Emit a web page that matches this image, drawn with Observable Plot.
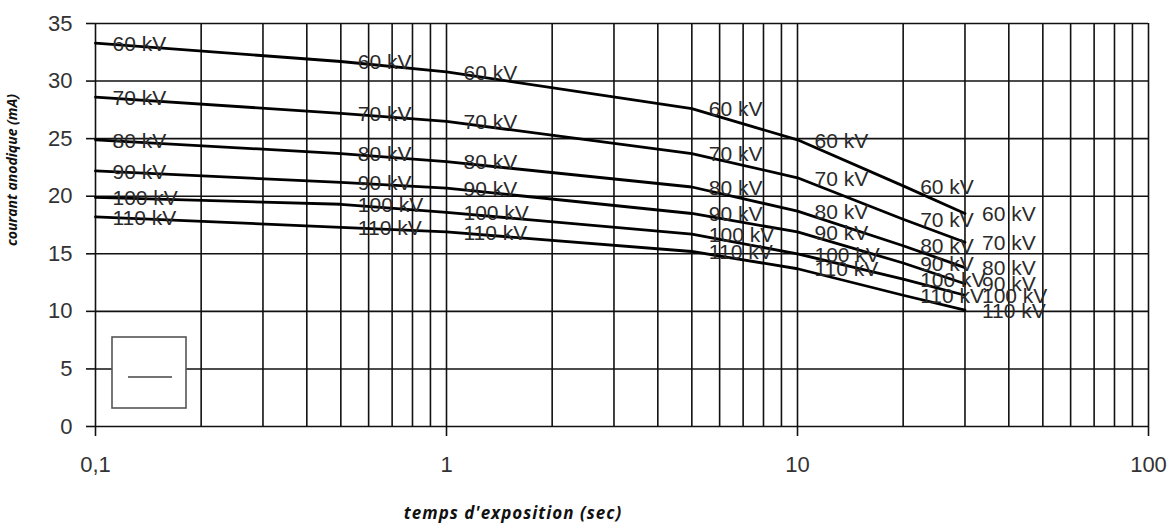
<!DOCTYPE html>
<html>
<head>
<meta charset="utf-8">
<script src="https://cdn.jsdelivr.net/npm/d3@7"></script>
<script src="https://cdn.jsdelivr.net/npm/@observablehq/plot@0.6"></script>
<style>
  html, body { margin: 0; padding: 0; background: #fff; }
  #chart svg { display: block; }
</style>
</head>
<body>
<div id="chart"></div>
<script>
// Exposure times (s) at which each curve is given
const times = [0.1, 0.5, 1, 5, 10, 20, 30];
// Tube voltages
const voltages = ["60 kV", "70 kV", "80 kV", "90 kV", "100 kV", "110 kV"];
// Anode current (mA) per voltage
const kv60  = [33.3, 31.7, 30.8, 27.6, 24.9, 20.9, 18.5];
const kv70  = [28.6, 27.2, 26.5, 23.7, 21.6, 18.0, 16.0];
const kv80  = [24.9, 23.7, 23.0, 20.8, 18.7, 15.7, 13.8];
const kv90  = [22.2, 21.2, 20.7, 18.5, 16.9, 14.2, 12.4];
const kv100 = [19.9, 19.3, 18.6, 16.7, 15.0, 12.8, 11.4];
const kv110 = [18.2, 17.3, 16.9, 15.2, 13.7, 11.4, 10.1];
const series = [kv60, kv70, kv80, kv90, kv100, kv110];

// Axis ticks
const xTicks = [0.1, 1, 10, 100];
const yTicks = [0, 5, 10, 15, 20, 25, 30, 35];
const xTitle = "temps d'exposition (sec)";
const yTitle = "courant anodique (mA)";

// grid lines of the log axis (1..9 in each decade)
const xGrid = [];
[0.1, 1, 10].forEach(d => { for (let k = 1; k <= 9; k++) xGrid.push(+(d * k).toPrecision(3)); });
xGrid.push(100);

const data = [];
voltages.forEach((v, i) => times.forEach((t, j) => data.push({kv: v, t, mA: series[i][j]})));

const W = 1171, H = 528;
const mL = 95, mR = 23, mT = 23, mB = 102;

const plot = Plot.plot({
  width: W,
  height: H,
  marginLeft: mL,
  marginRight: mR,
  marginTop: mT,
  marginBottom: mB,
  style: {fontFamily: "'Liberation Sans', Arial, sans-serif", background: "#fff", color: "#222"},
  x: {type: "log", domain: [0.1, 100]},
  y: {domain: [0, 35]},
  marks: [
    Plot.ruleX(xGrid, {stroke: "#111", strokeWidth: 1.6}),
    Plot.ruleY(yTicks, {stroke: "#111", strokeWidth: 1.6}),
    Plot.axisX({ticks: xTicks, tickSize: 10, tickPadding: 20, tickFormat: d => String(d).replace(".", ","),
      fontSize: 22, label: null, stroke: "#111", strokeWidth: 1.6, fill: "#333"}),
    Plot.axisY({ticks: yTicks, tickSize: 9, tickPadding: 14, fontSize: 22, label: null,
      stroke: "#111", strokeWidth: 1.6, fill: "#333"}),
    Plot.line(data, {x: "t", y: "mA", z: "kv", stroke: "#000", strokeWidth: 2.8}),
    Plot.text(data, {x: "t", y: "mA", text: "kv", textAnchor: "start", dx: 17, dy: 1,
      fontSize: 21, fill: "#2a2a2a"}),
    Plot.text([xTitle], {frameAnchor: "bottom", textAnchor: "middle", dx: -109, dy: 92, fontSize: 17,
      fontWeight: "bold", fontStyle: "italic", fontFamily: "'Open Sans', sans-serif", fill: "#111",
      className: "xtitle"}),
    Plot.text([yTitle], {frameAnchor: "left", textAnchor: "middle", rotate: -90, dx: -83, dy: -55, fontSize: 14,
      fontWeight: "bold", fontStyle: "italic", fontFamily: "'Open Sans', sans-serif", fill: "#111"})
  ]
});

const svg = d3.select(plot);
svg.selectAll(".xtitle text").attr("letter-spacing", "1px");

// Legend box decoration (empty legend frame with line sample)
const g = svg.append("g");
g.append("rect").attr("x", 112).attr("y", 337).attr("width", 74).attr("height", 71)
  .attr("fill", "#fff").attr("stroke", "#555").attr("stroke-width", 1.6);
g.append("line").attr("x1", 128).attr("x2", 172).attr("y1", 377).attr("y2", 377)
  .attr("stroke", "#444").attr("stroke-width", 1.6);

document.getElementById("chart").appendChild(plot);
</script>
</body>
</html>
